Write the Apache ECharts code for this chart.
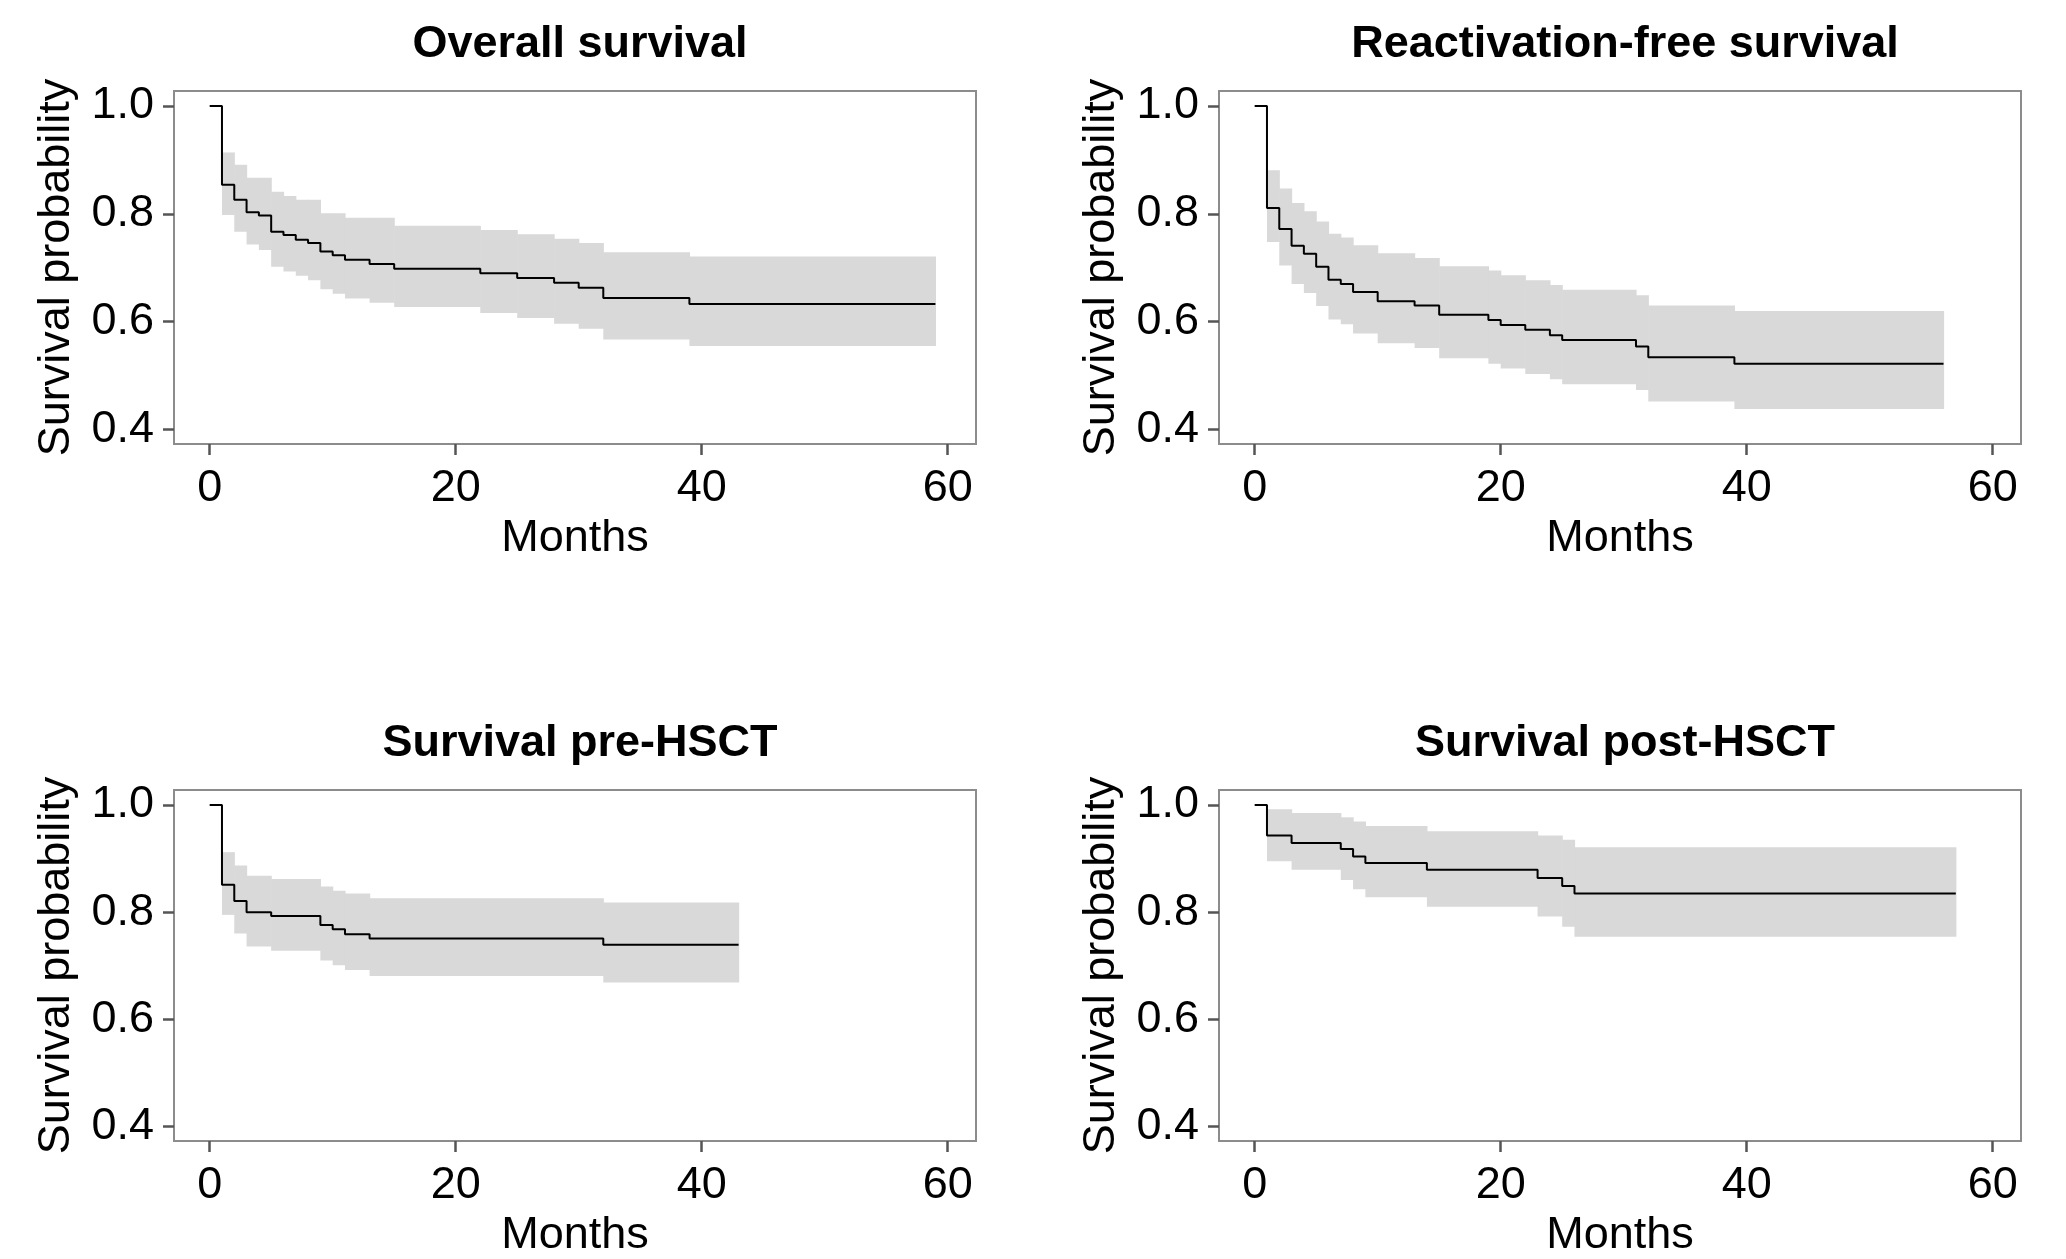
<!DOCTYPE html>
<html>
<head>
<meta charset="utf-8">
<script src="https://cdn.jsdelivr.net/npm/echarts@6.0.0/dist/echarts.min.js"></script>
<style>
  html, body { margin: 0; padding: 0; background: #ffffff; }
  #chart { width: 2066px; height: 1259px; }
</style>
</head>
<body>
<div id="chart"></div>
<script>
// ---- Data ----
const titles = ['Overall survival', 'Reactivation-free survival', 'Survival pre-HSCT', 'Survival post-HSCT'];
const xTicks = [0, 20, 40, 60];
const yTicks = [0.4, 0.6, 0.8, 1.0];

// Overall survival
const osTime  = [0, 1, 2, 3, 4, 5, 6, 7, 8, 9, 10, 11, 13, 15, 22, 25, 28, 30, 32, 39];
const osSurv  = [1, 0.854, 0.826, 0.803, 0.797, 0.767, 0.761, 0.752, 0.746, 0.730, 0.723, 0.715, 0.707, 0.698, 0.690, 0.681, 0.672, 0.663, 0.644, 0.633];
const osUpper = [1, 0.914, 0.891, 0.867, 0.867, 0.841, 0.833, 0.826, 0.826, 0.801, 0.801, 0.793, 0.793, 0.778, 0.770, 0.762, 0.754, 0.746, 0.729, 0.721];
const osLower = [1, 0.798, 0.767, 0.743, 0.733, 0.702, 0.693, 0.685, 0.677, 0.660, 0.652, 0.643, 0.635, 0.627, 0.616, 0.607, 0.596, 0.587, 0.567, 0.555];
const osEnd = 59;

// Reactivation-free survival
const rfsTime  = [0, 1, 2, 3, 4, 5, 6, 7, 8, 10, 13, 15, 19, 20, 22, 24, 25, 31, 32, 39];
const rfsSurv  = [1, 0.811, 0.772, 0.741, 0.726, 0.702, 0.678, 0.670, 0.655, 0.638, 0.630, 0.613, 0.603, 0.594, 0.585, 0.575, 0.566, 0.554, 0.534, 0.522];
const rfsUpper = [1, 0.881, 0.847, 0.820, 0.805, 0.786, 0.763, 0.756, 0.742, 0.727, 0.718, 0.703, 0.695, 0.686, 0.677, 0.668, 0.659, 0.649, 0.630, 0.620];
const rfsLower = [1, 0.748, 0.704, 0.670, 0.653, 0.629, 0.604, 0.595, 0.578, 0.560, 0.551, 0.532, 0.522, 0.513, 0.503, 0.493, 0.484, 0.473, 0.452, 0.438];
const rfsEnd = 56;

// Survival pre-HSCT
const preTime  = [0, 1, 2, 3, 5, 9, 10, 11, 13, 32];
const preSurv  = [1, 0.851, 0.821, 0.800, 0.793, 0.776, 0.768, 0.759, 0.751, 0.739];
const preUpper = [1, 0.912, 0.887, 0.868, 0.862, 0.848, 0.840, 0.835, 0.826, 0.818];
const preLower = [1, 0.795, 0.760, 0.736, 0.728, 0.710, 0.701, 0.692, 0.681, 0.669];
const preEnd = 43;

// Survival post-HSCT
const postTime  = [0, 1, 3, 7, 8, 9, 14, 23, 25, 26];
const postSurv  = [1, 0.943, 0.929, 0.918, 0.904, 0.892, 0.879, 0.864, 0.849, 0.835];
const postUpper = [1, 0.992, 0.985, 0.977, 0.969, 0.961, 0.951, 0.943, 0.935, 0.921];
const postLower = [1, 0.895, 0.879, 0.860, 0.843, 0.828, 0.810, 0.792, 0.773, 0.754];
const postEnd = 57;

const panels = [
  { t: osTime, s: osSurv, u: osUpper, l: osLower, end: osEnd },
  { t: rfsTime, s: rfsSurv, u: rfsUpper, l: rfsLower, end: rfsEnd },
  { t: preTime, s: preSurv, u: preUpper, l: preLower, end: preEnd },
  { t: postTime, s: postSurv, u: postUpper, l: postLower, end: postEnd }
];

// ---- Layout ----
const FONT = "'Liberation Sans', Arial, Helvetica, sans-serif";
const FS = 45;
const gridPos = [
  { left: 174, top: 91 },
  { left: 1219, top: 91 },
  { left: 174, top: 790 },
  { left: 1219, top: 790 }
];
const GW = 802, GH = 353;
const BORDER = '#8c8c8c';
const TICK = '#555555';

const grid = [], xAxis = [], yAxis = [], series = [], title = [];

function renderBand(params, api) {
  const p0 = api.coord([api.value(0), api.value(3)]);
  const p1 = api.coord([api.value(1), api.value(2)]);
  const cs = params.coordSys;
  return {
    type: 'rect',
    shape: { x: p0[0], y: p0[1], width: p1[0] - p0[0] + 0.6, height: p1[1] - p0[1] },
    style: { fill: '#d9d9d9' },
    clipPath: { type: 'rect', shape: { x: cs.x, y: cs.y, width: cs.width, height: cs.height } }
  };
}

panels.forEach((p, i) => {
  const g = gridPos[i];
  grid.push({ left: g.left, top: g.top, width: GW, height: GH, show: true,
    borderColor: BORDER, borderWidth: 2, backgroundColor: 'transparent', containLabel: false });
  title.push({
    text: titles[i], left: g.left + GW / 2, top: g.top - 74, textAlign: 'center',
    textStyle: { fontFamily: FONT, fontSize: FS, fontWeight: 'bold', color: '#000' }
  });
  xAxis.push({
    type: 'value', gridIndex: i, min: -2.9, max: 62.3, position: 'bottom',
    name: 'Months', nameLocation: 'middle', nameGap: 72,
    nameTextStyle: { fontFamily: FONT, fontSize: FS, color: '#000' },
    axisLine: { show: true, onZero: false, lineStyle: { color: BORDER, width: 2 } },
    axisTick: { show: true, inside: false, length: 11, customValues: xTicks,
      lineStyle: { color: TICK, width: 2.5 } },
    axisLabel: { show: true, margin: 22, customValues: xTicks,
      fontFamily: FONT, fontSize: FS, color: '#000' },
    splitLine: { show: false }
  });
  yAxis.push({
    type: 'value', gridIndex: i, min: 0.373, max: 1.028, position: 'left',
    name: 'Survival probability', nameLocation: 'middle', nameGap: 95, nameRotate: 90,
    nameTextStyle: { fontFamily: FONT, fontSize: FS, color: '#000' },
    axisLine: { show: true, onZero: false, lineStyle: { color: BORDER, width: 2 } },
    axisTick: { show: true, inside: false, length: 11, customValues: yTicks,
      lineStyle: { color: TICK, width: 2.5 } },
    axisLabel: { show: true, margin: 20, customValues: yTicks,
      formatter: v => v.toFixed(1),
      fontFamily: FONT, fontSize: FS, color: '#000' },
    splitLine: { show: false }
  });

  // confidence band: one rectangle per step interval [tStart, tEnd, lower, upper]
  const bandData = p.t.map((t, k) => [t, k < p.t.length - 1 ? p.t[k + 1] : p.end, p.l[k], p.u[k]]);
  series.push({
    type: 'custom', xAxisIndex: i, yAxisIndex: i, silent: true,
    renderItem: renderBand, encode: { x: [0, 1], y: [2, 3] },
    data: bandData, z: 1
  });

  const last = p.t.length - 1;
  const survData = p.t.map((t, k) => [t, p.s[k]]).concat([[p.end, p.s[last]]]);
  series.push({
    type: 'line', xAxisIndex: i, yAxisIndex: i, step: 'end',
    data: survData, symbol: 'none', silent: true,
    lineStyle: { color: '#000', width: 2 }, z: 3
  });
});

const chart = echarts.init(document.getElementById('chart'), null, { renderer: 'canvas' });
chart.setOption({
  backgroundColor: '#ffffff',
  animation: false,
  title, grid, xAxis, yAxis, series
});
</script>
</body>
</html>
